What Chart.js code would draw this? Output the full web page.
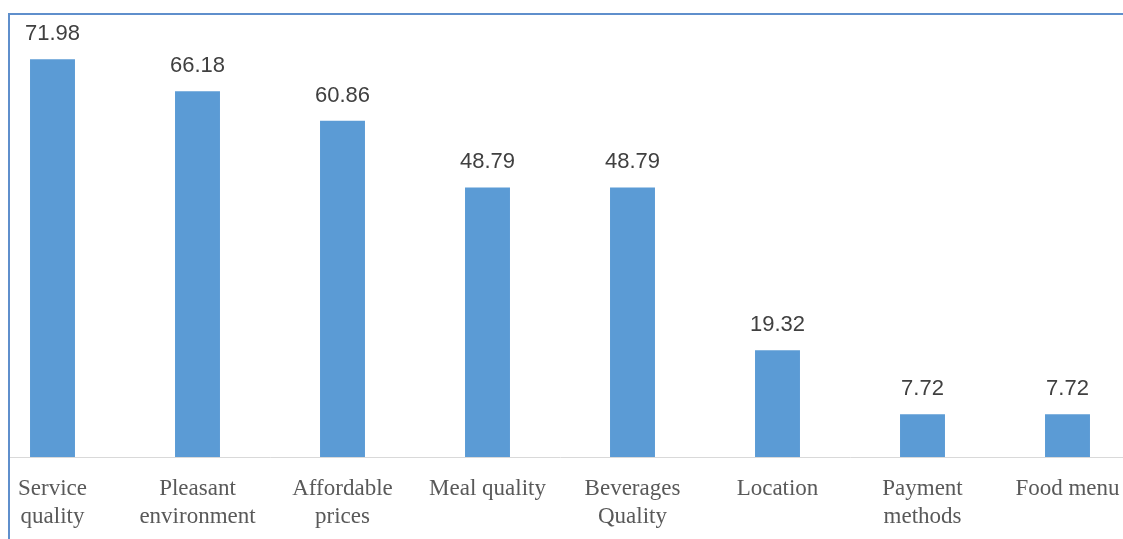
<!DOCTYPE html>
<html>
<head>
<meta charset="utf-8">
<script src="https://cdn.jsdelivr.net/npm/chart.js@4.4.1/dist/chart.umd.min.js"></script>
<style>
  html, body { margin: 0; padding: 0; background: #fff; overflow: hidden; }
  #wrap { position: relative; width: 1123px; height: 539px; overflow: hidden; }
  #box { position: absolute; left: -20px; top: 0; width: 1160px; height: 539px; }
  #strip { position: absolute; left: 0; top: 0; width: 8px; height: 539px; background: #fff; }
  #frame { position: absolute; left: 8px; top: 13px; width: 1200px; height: 600px;
           border-top: 2px solid #5f8fcc; border-left: 2px solid #5f8fcc; pointer-events: none; }
</style>
</head>
<body>
<div id="wrap">
  <div id="box"><canvas id="barChart"></canvas></div>
  <div id="strip"></div>
  <div id="frame"></div>
</div>
<script>
// categories and values
const categories = [
  ['Service', 'quality'],
  ['Pleasant', 'environment'],
  ['Affordable', 'prices'],
  'Meal quality',
  ['Beverages', 'Quality'],
  'Location',
  ['Payment', 'methods'],
  'Food menu'
];
const values = [71.98, 66.18, 60.86, 48.79, 48.79, 19.32, 7.72, 7.72];
const yMax = 80;

// draws the number above each bar
const valueLabels = {
  id: 'valueLabels',
  afterDatasetsDraw(chart) {
    const ctx = chart.ctx;
    const meta = chart.getDatasetMeta(0);
    ctx.save();
    ctx.font = '22px "Liberation Sans", Arial, sans-serif';
    ctx.fillStyle = '#404040';
    ctx.textAlign = 'center';
    ctx.textBaseline = 'alphabetic';
    meta.data.forEach((bar, i) => {
      ctx.fillText(values[i].toFixed(2), bar.x, bar.y - 19);
    });
    ctx.restore();
  }
};

document.addEventListener('DOMContentLoaded', function () {
  const ctx = document.getElementById('barChart');
  new Chart(ctx, {
    type: 'bar',
    data: {
      labels: categories,
      datasets: [{
        data: values,
        backgroundColor: '#5b9bd5',
        borderWidth: 0,
        categoryPercentage: 0.31,
        barPercentage: 1
      }]
    },
    options: {
      responsive: true,
      maintainAspectRatio: false,
      animation: false,
      layout: { padding: { top: 15, left: 0, right: 0, bottom: 0 } },
      plugins: {
        legend: { display: false },
        tooltip: { enabled: false }
      },
      scales: {
        y: {
          display: false,
          min: 0,
          max: yMax
        },
        x: {
          grid: { display: false, drawTicks: false },
          border: { display: true, color: '#d9d9d9', width: 1 },
          ticks: {
            color: '#595959',
            font: { family: '"Liberation Serif", "Times New Roman", serif', size: 23, lineHeight: 1.22 },
            padding: 18,
            maxRotation: 0,
            autoSkip: false
          },
          afterFit(scale) { scale.height = 82; }
        }
      }
    },
    plugins: [valueLabels]
  });
});
</script>
</body>
</html>
